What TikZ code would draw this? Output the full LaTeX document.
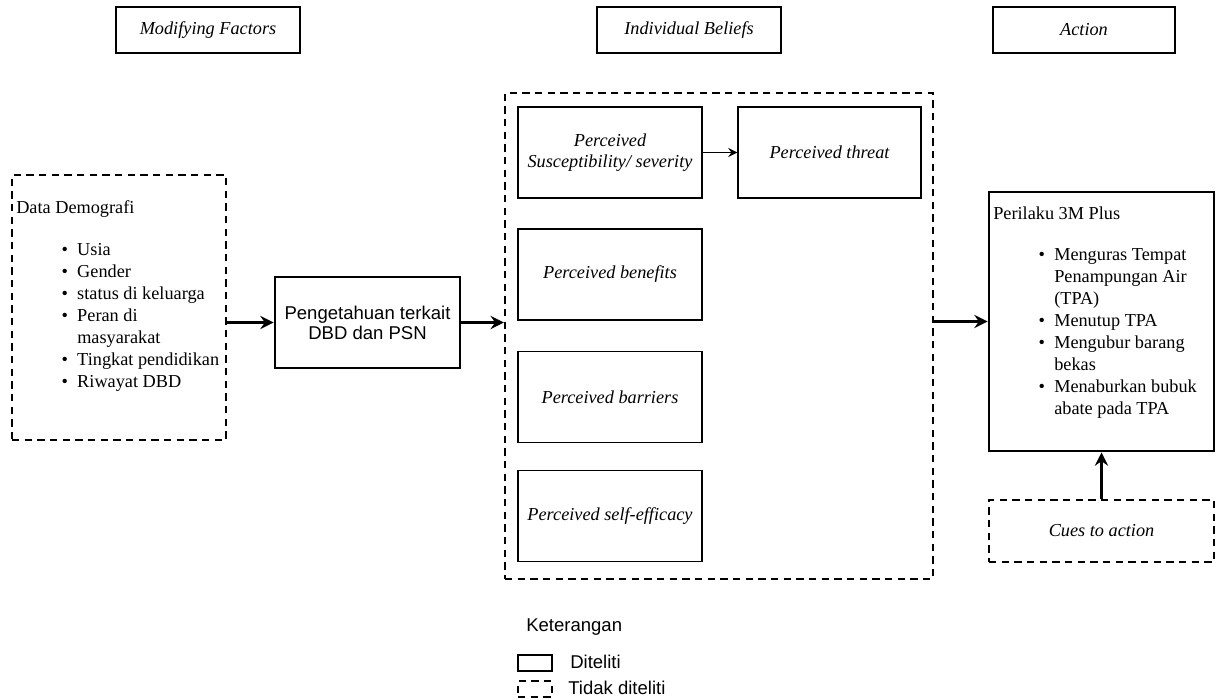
\documentclass[tikz,border=0pt]{standalone}
\usepackage{fontspec}
\setmainfont{Liberation Serif}
\setsansfont{Liberation Sans}
\usetikzlibrary{arrows.meta}

\begin{document}
\begin{tikzpicture}[x=0.75pt,y=-0.75pt,
  txt/.style={font=\fontsize{13.7}{16.5}\selectfont,inner sep=0},
  head/.style={draw,line width=1.1pt,minimum width=138pt,minimum height=34.5pt,font=\fontsize{13.7}{16.5}\selectfont\itshape},
  belief/.style={draw,line width=0.9pt,minimum width=138pt,minimum height=68.25pt,align=center,font=\fontsize{13.7}{15.75}\selectfont\itshape},
  studied/.style={draw,line width=2.2pt},
  notstudied/.style={draw,line width=1.8pt,dash pattern=on 5.5pt off 4pt},
  link/.style={line width=1.6pt,-{Stealth[length=10pt,width=10pt,inset=3.5pt]}}]

\useasboundingbox (0,0) rectangle (1216,699);

% column heads
\node[head] (hmod) at (208,30) {Modifying Factors};
\node[head] (hbel) at (689,30) {Individual Beliefs};
\node[head,minimum width=136.5pt] (hact) at (1084,30) {Action};

% modifying factors
\node[notstudied,minimum width=160.5pt,minimum height=198.75pt] (data) at (119,307.5) {};
\node[txt,anchor=west] (datat) at (16,209) {Data Demografi};
\node[txt,anchor=north west,align=left] (datal) at (77,240)
  {\strut\llap{\textbullet\hspace{7pt}}Usia\\
   \llap{\textbullet\hspace{7pt}}Gender\\
   \llap{\textbullet\hspace{7pt}}status di keluarga\\
   \llap{\textbullet\hspace{7pt}}Peran di\\
   masyarakat\\
   \llap{\textbullet\hspace{7pt}}Tingkat pendidikan\\
   \llap{\textbullet\hspace{7pt}}Riwayat DBD};

\node[studied,minimum width=138.75pt,minimum height=68.25pt,align=center,
  font=\sffamily\fontsize{13.9}{15}\selectfont] (pk) at (367.5,322.5)
  {Pengetahuan terkait\\DBD dan PSN};

% individual beliefs
\node[notstudied,minimum width=321pt,minimum height=364.5pt] (beliefs) at (719,336) {};
\node[belief] (sus) at (610,152.5) {Perceived\\Susceptibility/ severity};
\node[belief,minimum width=137.25pt] (thr) at (829.5,152.5) {Perceived threat};
\node[belief] (ben) at (610,274.5) {Perceived benefits};
\node[belief] (bar) at (610,397) {Perceived barriers};
\node[belief] (eff) at (610,516) {Perceived self-efficacy};

% action
\node[studied,minimum width=168.75pt,minimum height=194.25pt] (beh) at (1101.5,321.5) {};
\node[txt,anchor=west] (beht) at (993,213) {Perilaku 3M Plus};
\node[txt,anchor=north west,align=left] (behl) at (1054,245)
  {\strut\llap{\textbullet\hspace{7pt}}Menguras Tempat\\
   Penampungan Air\\
   (TPA)\\
   \llap{\textbullet\hspace{7pt}}Menutup TPA\\
   \llap{\textbullet\hspace{7pt}}Mengubur barang\\
   bekas\\
   \llap{\textbullet\hspace{7pt}}Menaburkan bubuk\\
   abate pada TPA};
\node[notstudied,minimum width=168.75pt,minimum height=46.5pt,
  font=\fontsize{13.7}{16.5}\selectfont\itshape] (cues) at (1101.5,531) {Cues to action};

\draw[link] (data.east |- pk.west) -- (pk.west);
\draw[link] (pk.east) -- (pk.east -| beliefs.west);
\draw[line width=0.9pt,-{Stealth[length=7pt,width=7pt,inset=2.5pt]}] (sus.east) -- (thr.west);
\draw[link] (beliefs.east |- beh.west) -- (beh.west);
\draw[link] (cues.north) -- (beh.south);

% legend
\node[txt,anchor=west,font=\sffamily\fontsize{13.9}{16.5}\selectfont] (ket) at (526,627) {Keterangan};
\node[studied,minimum width=25.5pt,minimum height=12pt] (lgsolid) at (535,663) {};
\node[txt,anchor=west,font=\sffamily\fontsize{13.9}{16.5}\selectfont] (lgsolidt) at (570,662) {Diteliti};
\node[notstudied,minimum width=25.5pt,minimum height=12pt] (lgdash) at (535,689) {};
\node[txt,anchor=west,font=\sffamily\fontsize{13.9}{16.5}\selectfont] (lgdasht) at (568,688) {Tidak diteliti};

\end{tikzpicture}
\end{document}
